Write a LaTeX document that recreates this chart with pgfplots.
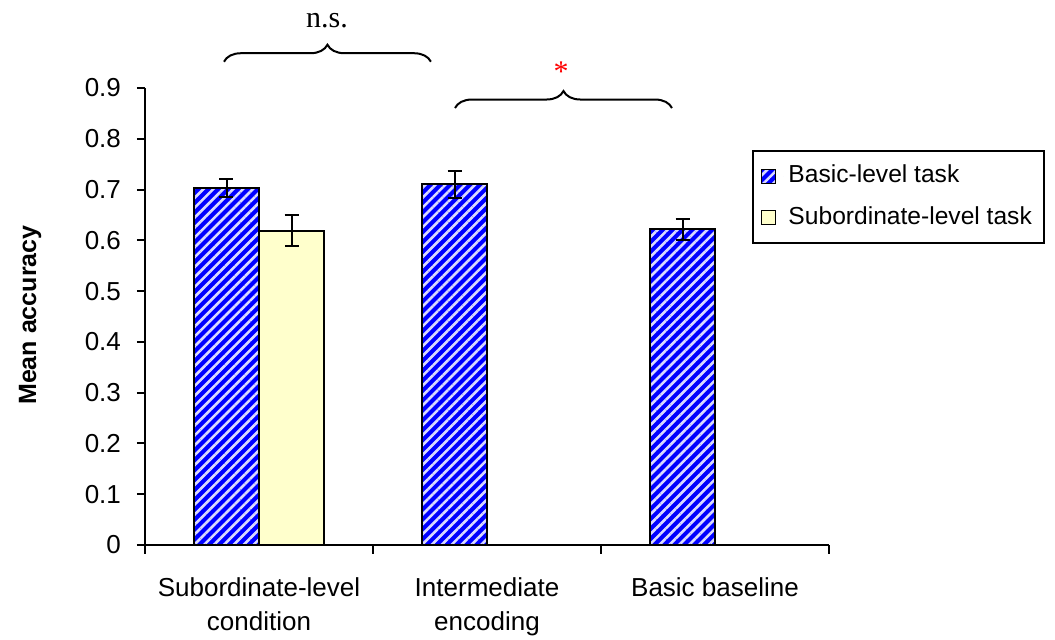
\documentclass[border=0pt]{standalone}
\usepackage{pgfplots}
\pgfplotsset{compat=1.18}
\usepackage{fontspec}
\setmainfont{Liberation Sans}
\newfontfamily\timesfont{Liberation Serif}
\usetikzlibrary{patterns.meta,decorations.pathreplacing}
\definecolor{paleyellow}{HTML}{FFFFCC}
\definecolor{stripeblue}{HTML}{0000FF}
\begin{document}
\fontsize{13}{15}\selectfont
\begin{tikzpicture}
\path[use as bounding box] (0,0) rectangle (527.5pt,-320pt);
\begin{axis}[
  at={(72.5pt,-272.5pt)}, anchor=south west,
  scale only axis, width=342pt, height=228.5pt,
  xmin=-0.5, xmax=2.5, ymin=0, ymax=0.9,
  clip=false,
  axis x line*=bottom, axis y line*=left,
  axis line style={line width=1pt},
  tick align=outside,
  major tick length=4pt,
  minor tick length=4.5pt,
  tick style={line width=1pt, black},
  xtick={0,1,2},
  xticklabels={{Subordinate-level\\condition},{Intermediate\\encoding},{Basic baseline}},
  major x tick style={draw=none},
  minor xtick={-0.5,0.5,1.5,2.5},
  ytick={0,0.1,...,0.9},
  yticklabel style={/pgf/number format/.cd, fixed, precision=1, /tikz/.cd, xshift=-3.5pt},
  /pgf/number format/assume math mode=true,
  ticklabel style={font=\fontsize{13}{17}\selectfont},
  xticklabel style={align=center, yshift=-8pt, text depth=0pt},
  ylabel={Mean accuracy},
  ylabel style={font=\fontsize{12.5}{14}\selectfont\bfseries, at={(rel axis cs:-0.168,0.503)}, anchor=center, rotate=0},
  ybar, bar width=32.5pt,
  legend style={at={(rel axis cs:0.8874,0.864)}, anchor=north west, draw=black, line width=1pt,
    font=\fontsize{12.3}{15}\selectfont, row sep=6pt, inner xsep=4pt, inner ysep=5pt, cells={anchor=west}},
  legend image code/.code={\draw[#1, line width=0.5pt] (0pt,-3.5pt) rectangle (7pt,3.5pt); \path[draw=none,fill=none,pattern=none,postaction={}] (11pt,0pt) circle (0pt);},
  error bars/error bar style={line width=1pt, black},
  error bars/error mark options={rotate=90, mark size=3.5pt, line width=1pt, black},
]
\addplot[bar shift=-16.25pt, draw=black, line width=1pt, fill=stripeblue,
  postaction={pattern={Lines[angle=45,distance=3.5pt,line width=1.3pt]}, pattern color=white!85!blue},
  error bars/.cd, y dir=both, y explicit]
  coordinates {(0,0.703) +- (0,0.018) (1,0.710) +- (0,0.027) (2,0.622) +- (0,0.021)};
\addlegendentry{Basic-level task}
\addplot[bar shift=16.25pt, draw=black, line width=1pt, fill=paleyellow,
  error bars/.cd, y dir=both, y explicit]
  coordinates {(0,0.619) +- (0,0.030)};
\addlegendentry{Subordinate-level task}
\draw[decorate, decoration={brace, amplitude=8.5pt}, line width=1pt]
  (axis cs:-0.1535,0.9518) -- (axis cs:0.754,0.9518);
\node[font=\timesfont\fontsize{15}{15}\selectfont] at (axis cs:0.298,1.032) {n.s.};
\draw[decorate, decoration={brace, amplitude=8.5pt}, line width=1pt]
  (axis cs:0.8596,0.8606) -- (axis cs:1.8114,0.8606);
\node[font=\timesfont\fontsize{15}{15}\selectfont, text=red] at (axis cs:1.3246,0.932) {*};
\end{axis}
\end{tikzpicture}
\end{document}
